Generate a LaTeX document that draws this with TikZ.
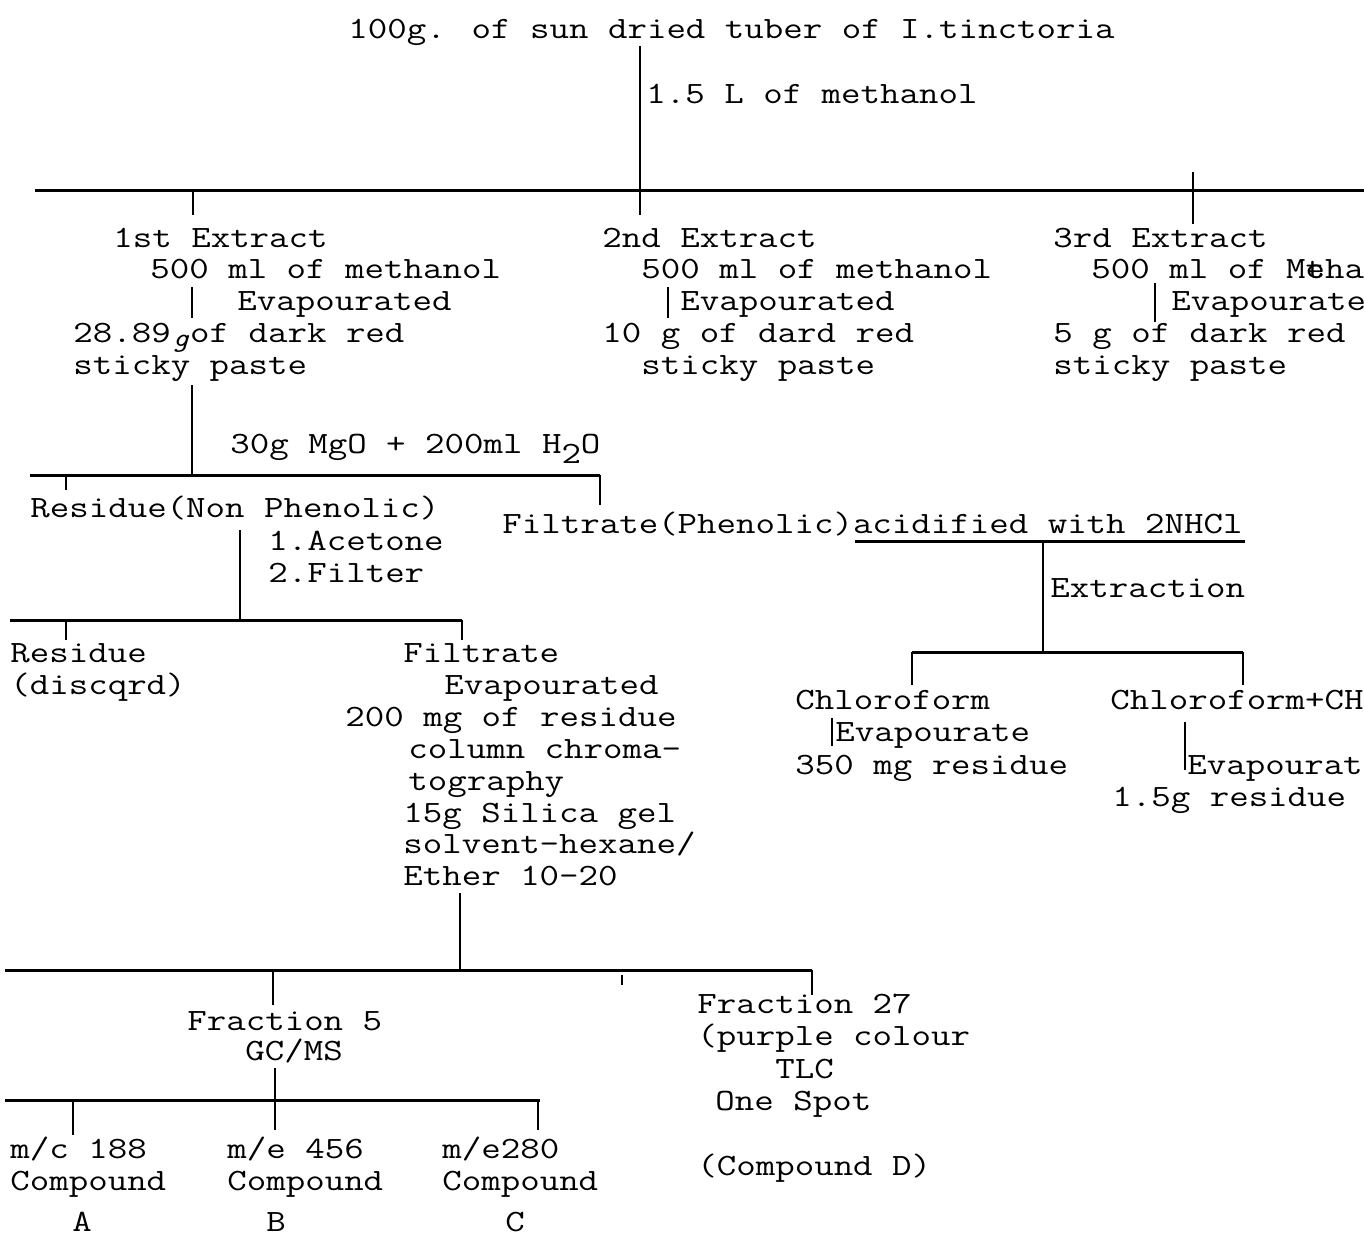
\documentclass[tikz,border=0pt]{standalone}
\usepackage{fontspec}
\newfontfamily\twfont[FakeStretch=1.22]{Latin Modern Mono}
\newcommand\tw{\twfont\fontsize{15.5}{16}\selectfont}
\tikzset{
  t/.style={anchor=base west, inner sep=0pt, font=\tw},
  ln/.style={line width=1pt, line cap=butt},
  hbar/.style={line width=1.5pt},
}
\begin{document}
\begin{tikzpicture}[x=0.5pt, y=-0.5pt]
\useasboundingbox (0,0) rectangle (1364,1239);
% ---------- texts ----------
\node[t] (title) at (348,38) {100g. of sun dried tuber of I.tinctoria};
\node[t] (meth) at (646,103) {1.5 L of methanol};
\node[t] (e1a) at (113,247) {1st Extract};
\node[t] (e1b) at (150,278) {500 ml of methanol};
\node[t] (e1c) at (237,310) {Evapourated};
\node[t] (e1d) at (73,342) {28.89\makebox[0pt][l]{\kern0.05em\itshape\fontsize{13}{13}\selectfont\raisebox{-2pt}{g}} of dark red};
\node[t] (e1e) at (73,374) {sticky paste};
\node[t] (e2a) at (602,247) {2nd Extract};
\node[t] (e2b) at (641,278) {500 ml of methanol};
\node[t] (e2c) at (680,310) {Evapourated};
\node[t] (e2d) at (602,342) {10 g of dard red};
\node[t] (e2e) at (641,374) {sticky paste};
\node[t] (e3a) at (1053,247) {3rd Extract};
\node[t] (e3b) at (1091,278) {500 ml of M\makebox[0pt][l]{e}tha};
\node[t] (e3c) at (1171,310) {Evapourate};
\node[t] (e3d) at (1053,342) {5 g of dark red};
\node[t] (e3e) at (1053,374) {sticky paste};
\node[t] (mg) at (230,453) {30g MgO + 200ml H\raisebox{-5pt}{2}O};
\node[t] (res1) at (30,517) {Residue(Non Phenolic)};
\node[t] (filt1) at (502,533) {Filtrate(Phenolic)acidified with 2NHCl};
\node[t] (ext) at (1050,597) {Extraction};
\node[t] (ch1) at (795,709) {Chloroform};
\node[t] (ch1b) at (835,741) {Evapourate};
\node[t] (ch1c) at (795,774) {350 mg residue};
\node[t] (ch2) at (1110,709) {Chloroform+CH};
\node[t] (ch2b) at (1187,774) {Evapourat};
\node[t] (ch2c) at (1112,806) {1.5g residue};
\node[t] (ac) at (268,550) {1.Acetone};
\node[t] (fi) at (268,582) {2.Filter};
\node[t] (r2a) at (10,662) {Residue};
\node[t] (r2b) at (10,694) {(discqrd)};
\node[t] (f2a) at (403,662) {Filtrate};
\node[t] (f2b) at (444,694) {Evapourated};
\node[t] (f2c) at (345,726) {200 mg of residue};
\node[t] (f2d) at (408,758) {column chroma-};
\node[t] (f2e) at (408,790) {tography};
\node[t] (f2f) at (403,822) {15g Silica gel};
\node[t] (f2g) at (403,853) {solvent-hexane/};
\node[t] (f2h) at (403,885) {Ether 10-20};
\node[t] (fr5) at (187,1030) {Fraction 5};
\node[t] (gc) at (245,1060) {GC/MS};
\node[t] (mA) at (10,1158) {m/c 188};
\node[t] (cA) at (10,1190) {Compound};
\node[t] (A) at (72,1231) {A};
\node[t] (mB) at (227,1158) {m/e 456};
\node[t] (cB) at (227,1190) {Compound};
\node[t] (B) at (266,1231) {B};
\node[t] (mC) at (442,1158) {m/e280};
\node[t] (cC) at (442,1190) {Compound};
\node[t] (C) at (505,1231) {C};
\node[t] (f27) at (697,1013) {Fraction 27};
\node[t] (pc) at (697,1045) {(purple colour};
\node[t] (tlc) at (775,1078) {TLC};
\node[t] (os) at (715,1110) {One Spot};
\node[t] (cd) at (697,1175) {(Compound D)};
% ---------- junction coordinates ----------
\coordinate (t0) at (640,46);
\coordinate (j1) at (640,190);
\coordinate (h1L) at (35,190);
\coordinate (h1R) at (1364,190);
\coordinate (k1t) at (193,190); \coordinate (k1) at (193,215);
\coordinate (k2) at (640,215);
\coordinate (k3t) at (1193,172); \coordinate (k3) at (1193,224);
\coordinate (v1a) at (192,287); \coordinate (v1b) at (192,318);
\coordinate (v2a) at (668,287); \coordinate (v2b) at (668,318);
\coordinate (v3a) at (1155,283); \coordinate (v3b) at (1155,322);
\coordinate (p1) at (192,385); \coordinate (j2) at (192,475);
\coordinate (h2L) at (30,475); \coordinate (h2R) at (600,475);
\coordinate (k4t) at (66,475); \coordinate (k4) at (66,490);
\coordinate (k5) at (600,505);
\coordinate (u1) at (855,541); \coordinate (u2) at (1245,541);
\coordinate (j3t) at (1043,541); \coordinate (j3) at (1043,652);
\coordinate (h3L) at (912,652); \coordinate (h3R) at (1243,652);
\coordinate (k6) at (912,685); \coordinate (k7) at (1243,685);
\coordinate (v4a) at (832,718); \coordinate (v4b) at (832,746);
\coordinate (v5a) at (1185,722); \coordinate (v5b) at (1185,770);
\coordinate (r1) at (240,530); \coordinate (j4) at (240,620);
\coordinate (h4L) at (10,620); \coordinate (h4R) at (462,620);
\coordinate (k8t) at (66,620); \coordinate (k8) at (66,640);
\coordinate (k9) at (462,640);
\coordinate (q1) at (460,893); \coordinate (j5) at (460,970);
\coordinate (h5L) at (5,970); \coordinate (h5R) at (812,970);
\coordinate (k10t) at (273,970); \coordinate (k10) at (273,1005);
\coordinate (k11t) at (622,975); \coordinate (k11) at (622,985);
\coordinate (k12) at (812,995);
\coordinate (g1) at (275,1068); \coordinate (j6) at (275,1100);
\coordinate (h6L) at (5,1100); \coordinate (h6R) at (540,1100);
\coordinate (k13t) at (73,1100); \coordinate (k13) at (73,1135);
\coordinate (k14) at (275,1130);
\coordinate (k15t) at (538,1100); \coordinate (k15) at (538,1130);
% ---------- connectors ----------
\draw[ln] (t0) -- (j1);
\draw[hbar] (h1L) -- (h1R);
\draw[ln] (k1t) -- (k1);
\draw[ln] (j1) -- (k2);
\draw[ln] (k3t) -- (k3);
\draw[ln] (v1a) -- (v1b);
\draw[ln] (v2a) -- (v2b);
\draw[ln] (v3a) -- (v3b);
\draw[ln] (p1) -- (j2);
\draw[hbar] (h2L) -- (h2R);
\draw[ln] (k4t) -- (k4);
\draw[ln] (h2R) -- (k5);
\draw[hbar] (u1) -- (u2);
\draw[ln] (j3t) -- (j3);
\draw[hbar] (h3L) -- (h3R);
\draw[ln] (h3L) -- (k6);
\draw[ln] (h3R) -- (k7);
\draw[ln] (v4a) -- (v4b);
\draw[ln] (v5a) -- (v5b);
\draw[ln] (r1) -- (j4);
\draw[hbar] (h4L) -- (h4R);
\draw[ln] (k8t) -- (k8);
\draw[ln] (h4R) -- (k9);
\draw[ln] (q1) -- (j5);
\draw[hbar] (h5L) -- (h5R);
\draw[ln] (k10t) -- (k10);
\draw[ln] (k11t) -- (k11);
\draw[ln] (h5R) -- (k12);
\draw[ln] (g1) -- (j6);
\draw[hbar] (h6L) -- (h6R);
\draw[ln] (k13t) -- (k13);
\draw[ln] (j6) -- (k14);
\draw[ln] (k15t) -- (k15);
\end{tikzpicture}
\end{document}
